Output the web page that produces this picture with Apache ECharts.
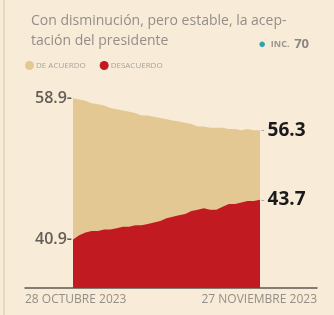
<!DOCTYPE html>
<html>
<head>
<meta charset="utf-8">
<script src="https://cdn.jsdelivr.net/npm/echarts@6/dist/echarts.min.js"></script>
<style>
  html, body { margin: 0; padding: 0; background: #f8ebd8; }
  #chart { width: 334px; height: 315px; }
  #edge { position: absolute; left: 3px; top: 0; width: 2px; height: 315px; background: #e8d6bd; }
</style>
</head>
<body>
<div id="edge"></div>
<div id="chart"></div>
<script>
// fechas diarias, 28 oct - 27 nov 2023
var days = ['28 oct', '29 oct', '30 oct', '31 oct', '1 nov', '2 nov', '3 nov', '4 nov', '5 nov', '6 nov',
  '7 nov', '8 nov', '9 nov', '10 nov', '11 nov', '12 nov', '13 nov', '14 nov', '15 nov', '16 nov',
  '17 nov', '18 nov', '19 nov', '20 nov', '21 nov', '22 nov', '23 nov', '24 nov', '25 nov', '26 nov', '27 nov']
var acuerdo = [58.9, 58.8, 58.7, 58.5, 58.4, 58.3, 58.1, 58.0, 57.9, 57.8, 57.7, 57.5, 57.5, 57.4, 57.3, 57.2,
  57.1, 57.0, 56.9, 56.8, 56.6, 56.6, 56.5, 56.5, 56.5, 56.4, 56.4, 56.3, 56.4, 56.3, 56.3]
var desacuerdo = [40.9, 41.2, 41.4, 41.5, 41.5, 41.6, 41.6, 41.7, 41.8, 41.8, 41.9, 41.9, 42.0, 42.1, 42.2, 42.4,
  42.5, 42.6, 42.7, 42.9, 43.0, 43.1, 43.0, 43.0, 43.2, 43.4, 43.4, 43.5, 43.6, 43.6, 43.7]
var xLabels = ['28 OCTUBRE 2023', '27 NOVIEMBRE 2023']
var seriesNames = ['DE ACUERDO', 'DESACUERDO']

var colors = ['#e4c894', '#c11b21']

// etiquetas solo en el primer y el ultimo punto
function endLabels (vals) {
  return vals.map(function (v, i) {
    if (i === 0) {
      return { value: v, label: { show: true, position: 'left', distance: 1,
        formatter: '{c}-', fontSize: 16, fontWeight: 600, color: '#625d58' } }
    }
    if (i === vals.length - 1) {
      return { value: v, label: { show: true, position: 'right', distance: 1,
        formatter: '{d|-}{v|{c}}',
        rich: { d: { fontSize: 11, color: '#999', padding: [0, 3, 0, 0] }, v: { fontSize: 19, fontWeight: 'bold', color: '#1a1a1a' } } } }
    }
    return v
  })
}

var myChart = echarts.init(document.getElementById('chart'))
myChart.setOption({
  color: colors,
  textStyle: { fontFamily: 'Open Sans' },
  title: [
    {
      text: 'Con disminución, pero estable, la acep-\ntación del presidente',
      left: 26, top: 6,
      textStyle: { fontSize: 14, fontWeight: 'normal', color: '#948e88', lineHeight: 20 }
    },
    {
      text: '{dot|●} {a|INC.} {b|70}',
      right: 20, top: 30,
      textStyle: {
        rich: {
          dot: { color: '#2ba3b3', fontSize: 13 },
          a: { color: '#9a948e', fontSize: 9 },
          b: { color: '#8d8782', fontSize: 13 }
        }
      }
    }
  ],
  legend: {
    data: seriesNames,
    left: 20, top: 56,
    icon: 'circle',
    itemWidth: 9, itemHeight: 9, itemGap: 14,
    textStyle: { fontSize: 8, color: '#a9a39c', padding: [0, 0, 0, -3] }
  },
  grid: [
    { left: 73, right: 74, top: 60, bottom: 27 },
    { left: 25, right: 17, top: 287, height: 1 }
  ],
  xAxis: [
    { type: 'category', gridIndex: 0, boundaryGap: false, data: days, show: false },
    {
      type: 'category', gridIndex: 1, boundaryGap: false, data: xLabels,
      axisLine: { lineStyle: { color: '#5e5953', width: 1.5 } },
      axisTick: { show: false },
      axisLabel: { interval: 0, margin: 6, fontSize: 12, color: '#948e88',
        alignMinLabel: 'left', alignMaxLabel: 'right', fontFamily: 'Open Sans' }
    }
  ],
  yAxis: [
    { type: 'value', gridIndex: 0, min: 43.5, max: 62, show: false },
    { type: 'value', gridIndex: 0, min: 37.5, max: 53.5, show: false },
    { type: 'value', gridIndex: 1, show: false }
  ],
  series: [
    {
      name: seriesNames[0], type: 'line', xAxisIndex: 0, yAxisIndex: 0,
      symbol: 'circle', symbolSize: 0, lineStyle: { width: 0 },
      areaStyle: { origin: 'start', color: colors[0], opacity: 1 },
      data: endLabels(acuerdo)
    },
    {
      name: seriesNames[1], type: 'line', xAxisIndex: 0, yAxisIndex: 1,
      symbol: 'circle', symbolSize: 0, lineStyle: { width: 0 },
      areaStyle: { origin: 'start', color: colors[1], opacity: 1 },
      data: endLabels(desacuerdo)
    }
  ]
})
</script>
</body>
</html>
